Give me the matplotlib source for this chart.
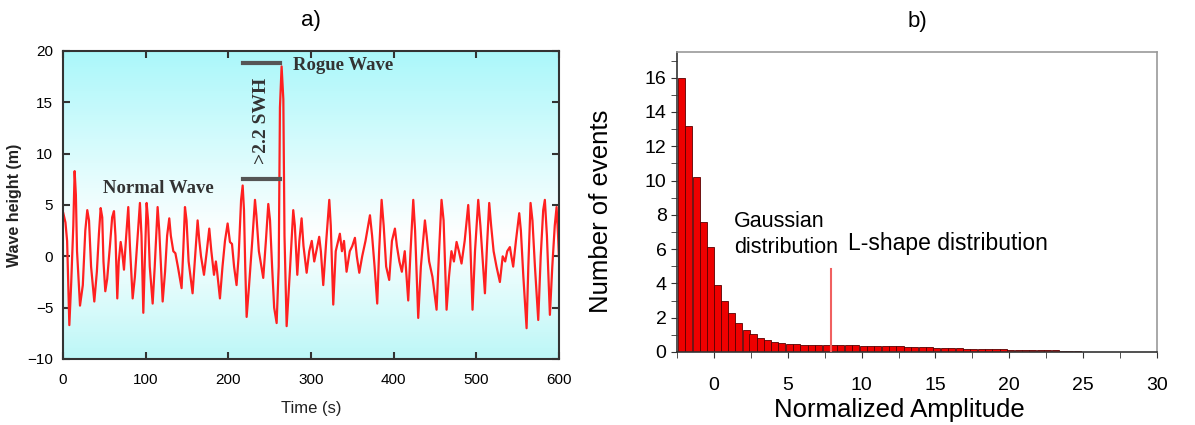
import numpy as np
import matplotlib.pyplot as plt
from matplotlib.colors import LinearSegmentedColormap

plt.rcParams['font.family'] = ['Liberation Sans', 'DejaVu Sans']

# a) wave record: time (s) and height (m)
wave_t = [0.4, 3.0, 5.0, 7.7, 10.0, 12.5, 14.1, 15.6, 17.0, 20.6, 24.0, 27.0, 29.4,
          31.5, 34.0, 37.9, 41.0, 43.5, 45.6, 47.5, 49.0, 51.2, 53.5, 57.0, 59.5,
          61.7, 63.5, 65.7, 67.5, 69.8, 71.5, 73.8, 76.5, 79.0, 81.0, 84.3, 87.0,
          90.0, 93.1, 95.0, 97.2, 99.0, 101.2, 103.0, 105.0, 108.5, 111.0, 114.5,
          116.5, 120.6, 123.5, 126.0, 128.6, 130.5, 133.5, 136.0, 139.0, 143.5,
          145.5, 147.6, 149.5, 152.0, 156.8, 159.5, 162.9, 165.0, 167.0, 170.6,
          174.0, 177.0, 179.5, 182.7, 185.0, 186.5, 189.9, 193.0, 196.0, 199.2,
          202.0, 204.5, 207.0, 210.0, 212.5, 215.5, 217.4, 219.0, 220.5, 222.2,
          225.0, 229.0, 232.3, 234.0, 237.0, 242.3, 245.5, 248.4, 250.5, 253.0,
          255.5, 258.5, 261.0, 262.5, 264.5, 266.6, 268.0, 270.6, 274.5, 278.6,
          280.5, 283.5, 286.0, 288.7, 291.0, 294.8, 298.0, 301.0, 304.0, 306.5,
          310.0, 312.0, 314.9, 318.5, 322.2, 324.0, 327.0, 330.0, 335.0, 337.5,
          340.0, 343.1, 347.0, 350.0, 353.2, 355.5, 358.5, 362.0, 366.0, 371.4,
          374.0, 377.0, 380.2, 382.5, 385.5, 388.0, 391.0, 394.7, 398.0, 401.6,
          404.0, 407.0, 410.0, 413.5, 417.7, 420.5, 423.8, 426.0, 429.8, 433.0,
          437.9, 440.0, 443.0, 447.0, 452.0, 455.0, 458.0, 460.5, 464.1, 467.0,
          470.0, 473.0, 476.2, 479.0, 482.2, 486.0, 490.3, 492.5, 495.5, 498.5,
          502.4, 505.0, 507.5, 510.5, 513.0, 515.7, 518.0, 521.0, 524.5, 528.6,
          532.0, 535.0, 537.5, 540.7, 542.5, 544.7, 548.0, 552.0, 554.0, 557.0,
          560.9, 563.0, 565.7, 568.0, 571.0, 575.0, 578.0, 581.0, 583.0, 585.5,
          589.1, 592.0, 595.0, 597.2, 599.0, 600.0]
wave_v = [4.2, 3.3, 1.5, -6.7, -2.5, 3.0, 8.3, 6.0, 0.5, -4.8, -2.8, 2.5, 4.5,
          3.5, -1.0, -4.4, -1.5, 2.2, 4.7, 3.8, -0.5, -3.4, -2.2, 1.2, 3.8,
          4.4, 2.0, -4.1, -0.5, 1.4, 0.5, -1.3, 2.0, 4.8, 1.0, -4.1, -2.0,
          1.5, 5.2, 2.0, -5.5, -0.5, 5.2, 3.5, -1.0, -4.6, -1.0, 4.8,
          2.5, -4.4, -1.5, 2.0, 3.7, 2.0, 0.5, 0.3, -1.0, -3.1,
          0.5, 4.8, 3.5, -0.5, -3.6, -0.5, 3.5, 1.5, 0.0, -1.8,
          0.5, 2.7, 0.5, -1.8, -0.5, -1.5, -4.1, -1.0, 1.5, 3.2,
          1.4, 1.2, -1.0, -2.8, 0.0, 5.5, 6.9, 4.5, -1.0, -5.9,
          -3.0, 1.5, 5.5, 4.0, 0.5, -2.1, 1.5, 5.1, 3.5, -1.0,
          -5.0, -6.5, -1.0, 14.5, 18.5, 15.3, 2.0, -6.8, -1.5, 4.5,
          3.0, -1.8, 1.5, 3.7, 1.0, -1.6, 0.5, 1.5, -0.5, 0.5,
          1.9, 0.5, -2.8, 1.5, 5.5, 3.0, -4.7, 0.5, 2.2, 0.5,
          1.5, -1.5, 0.5, 1.0, 1.8, 0.0, -1.6, 0.0, 1.5, 4.0,
          2.0, -1.0, -4.6, 0.5, 5.5, 3.0, -1.0, -2.3, 1.5, 2.7,
          1.0, -0.5, -1.5, 0.5, -4.3, 0.5, 5.5, 2.5, -6.0, -1.0,
          3.5, 2.0, -0.5, -2.0, -5.2, 0.5, 5.5, 3.5, -5.2, -2.0,
          0.5, -0.5, 1.4, 0.5, -0.7, 1.5, 5.0, 2.0, -5.2, 0.5,
          5.5, 3.0, 0.0, -3.6, 1.0, 5.2, 3.0, 0.5, -1.0, -2.5,
          0.0, -0.5, 0.5, 0.9, 0.0, -1.0, 1.5, 4.2, 2.5, -2.0,
          -7.0, -1.0, 5.2, 3.5, -1.0, -6.2, 0.0, 4.5, 5.5, 2.0,
          -5.7, -1.0, 3.0, 4.8, 2.0, 0.0]

# b) histogram of normalized amplitude
bin_centers = [-2.2, -1.7, -1.15, -0.7, -0.25, 0.22, 0.7, 1.2, 1.67, 2.2, 2.65, 3.15,
               3.62, 4.13, 4.6, 5.1, 5.6, 6.1, 6.6, 7.1, 7.6, 8.1, 8.6, 9.1, 9.6,
               10.1, 10.6, 11.1, 11.6, 12.1, 12.6, 13.1, 13.6, 14.1, 14.6, 15.1,
               15.6, 16.1, 16.6, 17.1, 17.6, 18.1, 18.6, 19.1, 19.6, 20.1, 20.6,
               21.1, 21.6, 22.1, 22.6, 23.1, 23.6, 24.1, 24.6]
counts = [16.0, 13.2, 10.2, 7.6, 6.1, 3.9, 2.95, 2.25, 1.7, 1.3, 1.03, 0.83,
          0.68, 0.57, 0.52, 0.45, 0.44, 0.42, 0.42, 0.4, 0.4, 0.4, 0.38, 0.38, 0.38,
          0.37, 0.36, 0.35, 0.34, 0.33, 0.32, 0.3, 0.3, 0.28, 0.27, 0.26,
          0.25, 0.24, 0.22, 0.2, 0.2, 0.18, 0.17, 0.16, 0.15, 0.14, 0.13,
          0.12, 0.11, 0.1, 0.1, 0.09, 0.08, 0.07, 0.06]
threshold = 7.9
threshold_height = 4.85

fig = plt.figure(figsize=(11.95, 4.25), dpi=100)

# ---- panel a
ax1 = fig.add_axes([0.0527, 0.1553, 0.415, 0.7247])
bg = LinearSegmentedColormap.from_list(
    'bg', [(0.0, (0.67, 0.97, 0.98)), (0.6, (1, 1, 1)), (1.0, (0.74, 0.97, 0.97))])
ax1.imshow(np.linspace(0, 1, 256).reshape(-1, 1), cmap=bg, aspect='auto',
           extent=[0, 600, -10, 20], zorder=0)
ax1.plot(wave_t, wave_v, color='#ff2020', lw=1.6, zorder=2)
ax1.set_xlim(0, 600)
ax1.set_ylim(-10, 20)
ax1.set_xticks(range(0, 601, 100))
ax1.set_yticks(range(-10, 21, 5))
ax1.tick_params(direction='in', top=True, right=True, labelsize=11, length=5,
                width=1.5, color='#333333', pad=7)
ax1.tick_params(axis='x', pad=10)
for s in ax1.spines.values():
    s.set_color('#333333')
    s.set_linewidth(1.5)
ax1.set_xlabel('Time (s)', fontsize=12, labelpad=10, color='#222222')
ax1.set_ylabel('Wave height (m)', fontsize=11.5, fontweight='bold', labelpad=4,
               color='#222222')
ax1.set_title('a)', fontsize=16, pad=18)

ax1.plot([218, 262], [18.8, 18.8], color='#555555', lw=3, zorder=3)
ax1.plot([218, 262], [7.5, 7.5], color='#555555', lw=3, zorder=3)
ax1.text(278, 18.6, 'Rogue Wave', family='Liberation Serif', fontweight='bold',
         fontsize=13.5, color='#333333', va='center', ha='left')
ax1.text(48, 6.65, 'Normal Wave', family='Liberation Serif', fontweight='bold',
         fontsize=13.5, color='#333333', va='center', ha='left')
ax1.text(240, 13.2, '>2.2 SWH', family='Liberation Serif', fontweight='bold',
         fontsize=14, color='#333333', va='center', ha='center', rotation=90)

# ---- panel b
ax2 = fig.add_axes([0.5665, 0.1718, 0.4017, 0.7059])
ax2.bar(bin_centers, counts, width=0.48, color='#ee0000', edgecolor='#5a0000',
        linewidth=0.6, zorder=2)
ax2.plot([threshold, threshold], [0, threshold_height], color='#f06060', lw=1.5, zorder=3)
ax2.set_xlim(-2.43, 30)
ax2.set_ylim(0, 17.5)
ax2.set_xticks(range(0, 31, 5))
ax2.set_xticks(np.arange(-2.5, 30.1, 2.5), minor=True)
ax2.set_yticks(range(0, 17, 2))
ax2.set_yticks(range(0, 18, 1), minor=True)
ax2.tick_params(axis='both', which='both', direction='out', color='#333333')
ax2.tick_params(axis='both', which='major', labelsize=14, length=4)
ax2.tick_params(axis='both', which='minor', length=4)
ax2.tick_params(axis='x', pad=14)
for name, s in ax2.spines.items():
    s.set_color('#999999' if name in ('top', 'right') else '#333333')
    s.set_linewidth(1.2)
ax2.set_xlabel('Normalized Amplitude', fontsize=18.5)
ax2.xaxis.set_label_coords(0.4625, -0.155)
ax2.set_ylabel('Number of events', fontsize=18.5)
ax2.yaxis.set_label_coords(-0.133, 0.47)
ax2.set_title('b)', fontsize=16, pad=18)
ax2.text(1.35, 6.85, 'Gaussian\ndistribution', fontsize=15.5, va='center', ha='left',
         linespacing=1.3)
ax2.text(9.1, 6.3, 'L-shape distribution', fontsize=16.5, va='center', ha='left')

fig.savefig('out.png', dpi=100)
